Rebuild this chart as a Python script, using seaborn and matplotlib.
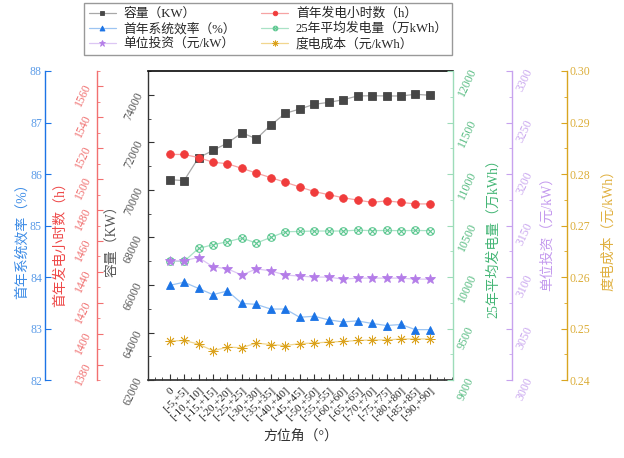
import numpy as np
import matplotlib
matplotlib.use("Agg")
import matplotlib.pyplot as plt
from matplotlib.path import Path
from matplotlib.ticker import MultipleLocator, FormatStrFormatter
import seaborn as sns

# azimuth ranges (x categories)
categories = ['0', '[-5,+5]', '[-10,+10]', '[-15,+15]', '[-20,+20]', '[-25,+25]',
              '[-30,+30]', '[-35,+35]', '[-40,+40]', '[-45,+45]', '[-50,+50]',
              '[-55,+55]', '[-60,+60]', '[-65,+65]', '[-70,+70]', '[-75,+75]',
              '[-80,+80]', '[-85,+85]', '[-90,+90]']

# series
capacity_kw = [70430, 70390, 71350, 71660, 71970, 72400, 72150, 72720, 73220, 73400,
               73600, 73680, 73790, 73950, 73960, 73950, 73950, 74020, 73980]
first_year_eff = [83.84, 83.90, 83.78, 83.66, 83.73, 83.49, 83.47, 83.38, 83.38, 83.22,
                  83.24, 83.17, 83.13, 83.15, 83.10, 83.06, 83.08, 82.98, 82.98]
unit_investment = [3115.5, 3116, 3119, 3110, 3108, 3102, 3108, 3106, 3102, 3101,
                   3100, 3100, 3098, 3099, 3099, 3099, 3099, 3098, 3098]
first_year_hours = [1516, 1516, 1514, 1511, 1510, 1507, 1504, 1501, 1498, 1495,
                    1492, 1490, 1488, 1486.5, 1485, 1486, 1485, 1484, 1484]
energy_25yr = [10155, 10152, 10278, 10314, 10343, 10379, 10330, 10385, 10440, 10443,
               10447, 10447, 10447, 10456, 10450, 10453, 10450, 10453, 10450]
lcoe = [0.2476, 0.2477, 0.2470, 0.2457, 0.2464, 0.2463, 0.2472, 0.2469, 0.2467, 0.2471,
        0.2472, 0.2474, 0.2475, 0.2477, 0.2478, 0.2478, 0.2480, 0.2480, 0.2480]

labels = ['容量（KW）', '首年系统效率（%）', '单位投资（元/kW）',
          '首年发电小时数（h）', '25年平均发电量（万kWh）', '度电成本（元/kWh）']

sns.set_theme(style="ticks")
plt.rcParams['font.family'] = ['Liberation Serif', 'Noto Sans CJK SC']
plt.rcParams['axes.unicode_minus'] = False

# circle with a cross for the 25-year series
otimes = Path.make_compound_path(
    Path.unit_circle(),
    Path([[-0.7, -0.7], [0.7, 0.7], [-0.7, 0.7], [0.7, -0.7]],
         [Path.MOVETO, Path.LINETO, Path.MOVETO, Path.LINETO]))

fig, ax = plt.subplots(figsize=(6.24, 4.58), dpi=100)
fig.subplots_adjust(left=0.237, right=0.726, bottom=0.170, top=0.845)
x = np.arange(len(categories))

ax_eff = ax.twinx()
ax_hours = ax.twinx()
ax_energy = ax.twinx()
ax_inv = ax.twinx()
ax_lcoe = ax.twinx()


def draw(a, y, line_c, mark_c, marker, ms, hollow=False, mew=0.6):
    sns.lineplot(x=x, y=y, ax=a, color=line_c, lw=0.9, legend=False)
    line = a.lines[-1]
    line.set_marker(marker)
    line.set_markersize(ms)
    line.set_markerfacecolor('none' if hollow else mark_c)
    line.set_markeredgecolor(mark_c)
    line.set_markeredgewidth(mew)


draw(ax, capacity_kw, '#a8a8a8', '#474747', 's', 5.2)
draw(ax_hours, first_year_hours, '#f6a3a3', '#f03c3c', 'o', 5.5)
draw(ax_eff, first_year_eff, '#9cc4f2', '#1c74e6', '^', 6)
draw(ax_energy, energy_25yr, '#a9e2c6', '#5fc892', otimes, 5.5, hollow=True, mew=0.8)
draw(ax_inv, unit_investment, '#dcc6f4', '#b47de8', '*', 7.5)
draw(ax_lcoe, lcoe, '#f1d68e', '#dba21c', (8, 2, 0), 7, mew=0.6)


def style_axis(a, side, pos, spine_c, tick_c, label, label_c, lim, major, minor,
               label_xy, rot, fmt=None):
    for s in a.spines.values():
        s.set_visible(False)
    a.spines[side].set_visible(True)
    a.spines[side].set_color(spine_c)
    a.spines[side].set_linewidth(1.0)
    a.spines[side].set_position(('axes', pos))
    if side == 'left':
        a.yaxis.tick_left()
        a.yaxis.set_label_position('left')
    else:
        a.yaxis.tick_right()
        a.yaxis.set_label_position('right')
    a.set_ylim(*lim)
    a.yaxis.set_major_locator(MultipleLocator(major))
    if minor:
        a.yaxis.set_minor_locator(MultipleLocator(minor))
    if fmt:
        a.yaxis.set_major_formatter(FormatStrFormatter(fmt))
    a.tick_params(axis='y', which='both', direction='in', color=spine_c,
                  labelcolor=tick_c, labelsize=8.5, labelrotation=rot, pad=2)
    a.tick_params(axis='y', which='major', length=4, width=0.8)
    a.tick_params(axis='y', which='minor', length=2, width=0.6)
    a.set_ylabel(label, color=label_c, fontsize=10)
    a.yaxis.label.set_va('center')
    a.yaxis.set_label_coords(*label_xy)


style_axis(ax, 'left', 0, '#333333', '#555555', labels[0], '#555555',
           (62000, 75000), 2000, 1000, (-0.115, 0.46), 65)
ax.spines['top'].set_visible(True)
ax.spines['top'].set_color('#111111')
ax.spines['bottom'].set_visible(True)
ax.spines['bottom'].set_color('#333333')
style_axis(ax_eff, 'left', -0.338, '#1c74e6', '#5a9be8', labels[1], '#3d8ce6',
           (82, 88), 1, None, (-0.413, 0.46), 0)
style_axis(ax_hours, 'left', -0.167, '#f27070', '#f07070', labels[3], '#ee4848',
           (1370, 1570), 20, 10, (-0.289, 0.45), 65)
style_axis(ax_energy, 'right', 1.0, '#9ddcb9', '#55bb80', labels[4], '#45b676',
           (9000, 12000), 500, 250, (1.131, 0.47), 65)
style_axis(ax_inv, 'right', 1.193, '#c7a2ee', '#c9a6ef', labels[2], '#c49aee',
           (3000, 3300), 50, 25, (1.308, 0.485), 65)
style_axis(ax_lcoe, 'right', 1.374, '#d9a520', '#dcae3a', labels[5], '#e0b040',
           (0.24, 0.30), 0.01, 0.005, (1.508, 0.495), 0, fmt='%.2f')

ax.set_xlim(-1.5, 19.6)
ax.set_xticks(x)
ax.set_xticklabels(categories, rotation=45, ha='right', rotation_mode='anchor', fontsize=8)
ax.xaxis.set_minor_locator(MultipleLocator(0.5))
ax.tick_params(axis='x', which='both', direction='in', color='#333333', pad=4)
ax.tick_params(axis='x', which='major', length=4, width=0.8)
ax.tick_params(axis='x', which='minor', length=2, width=0.6)
ax.set_xlabel('方位角（°）', fontsize=10, color='#333333', labelpad=6)

handles = [ax.lines[0], ax_eff.lines[0], ax_inv.lines[0],
           ax_hours.lines[0], ax_energy.lines[0], ax_lcoe.lines[0]]
leg_labels = [labels[0], labels[1], labels[2], labels[3], labels[4], labels[5]]
fig.legend(handles, leg_labels, ncol=2, loc='upper right', bbox_to_anchor=(0.725, 0.993),
           borderaxespad=0, frameon=True, fancybox=False, edgecolor='#999999', framealpha=1,
           fontsize=9.2, handlelength=2.1, handletextpad=0.6, columnspacing=2.0,
           borderpad=0.35, labelspacing=0.2, markerscale=0.6)

fig.savefig('out.png', dpi=100)
